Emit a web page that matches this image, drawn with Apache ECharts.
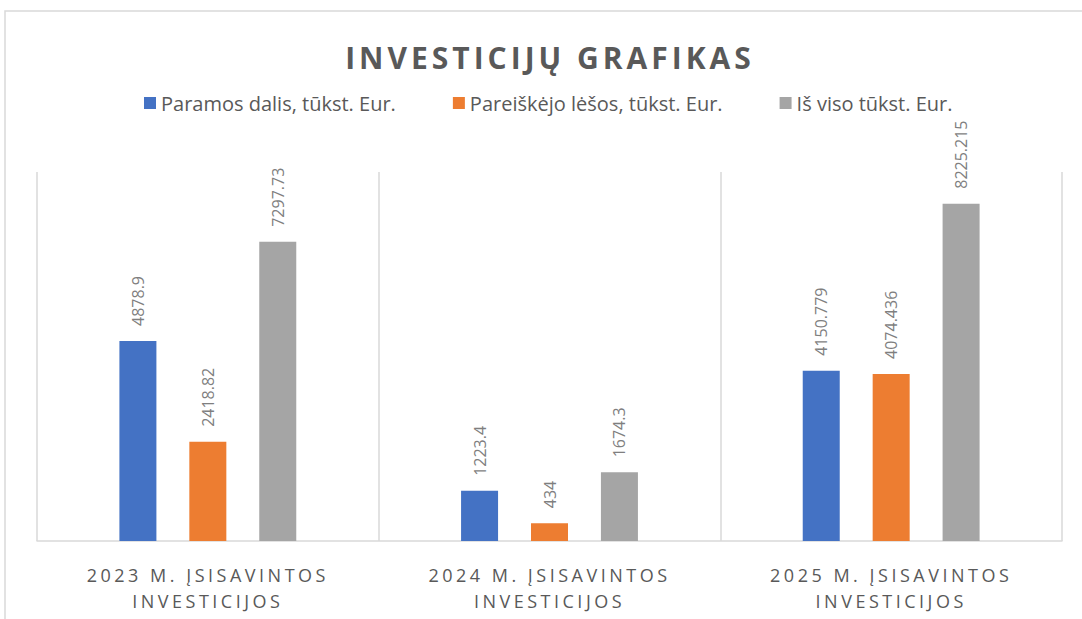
<!DOCTYPE html>
<html>
<head>
<meta charset="utf-8">
<script src="https://cdn.jsdelivr.net/npm/echarts@6/dist/echarts.min.js"></script>
<style>
html, body { margin: 0; padding: 0; background: #fff; }
#chart { width: 1082px; height: 619px; }
</style>
</head>
<body>
<div id="chart"></div>
<script>
// kategorijos ir duomenys
const categories = [
    "2023 M. ĮSISAVINTOS\nINVESTICIJOS",
    "2024 M. ĮSISAVINTOS\nINVESTICIJOS",
    "2025 M. ĮSISAVINTOS\nINVESTICIJOS"
];
const seriesNames = ["Paramos dalis, tūkst. Eur.", "Pareiškėjo lėšos, tūkst. Eur.", "Iš viso tūkst. Eur."];
const paramosDalis = [4878.9, 1223.4, 4150.779];
const pareiskejoLesos = [2418.82, 434, 4074.436];
const isViso = [7297.73, 1674.3, 8225.215];
const colors = ["#4472C4", "#ED7D31", "#A5A5A5"];
const titleText = "INVESTICIJŲ GRAFIKAS";

const font = "'Open Sans', 'Noto Sans', sans-serif";

function barSeries(name, data, color) {
    return {
        name: name,
        type: "bar",
        data: data,
        barWidth: 37,
        barGap: "89%",
        itemStyle: { color: color },
        label: {
            show: true,
            position: "top",
            rotate: 90,
            align: "left",
            verticalAlign: "middle",
            distance: 15,
            color: "#7f7f7f",
            fontSize: 16,
            fontFamily: font
        }
    };
}

const chart = echarts.init(document.getElementById("chart"), null, { renderer: "svg" });
const option = {
    animation: false,
    color: colors,
    title: {
        text: titleText,
        left: 545,
        textAlign: "center",
        top: 37,
        textStyle: {
            color: "#595959",
            fontSize: 30,
            fontWeight: "bold",
            fontFamily: font
        }
    },
    legend: {
        top: 88,
        left: 139,
        itemWidth: 12,
        itemHeight: 12,
        itemGap: 57,
        icon: "rect",
        textStyle: { color: "#595959", fontSize: 20, fontFamily: font },
        data: seriesNames
    },
    graphic: [{
        type: "rect",
        shape: { x: 5, y: 11, width: 1200, height: 800 },
        style: { fill: "none", stroke: "#d9d9d9", lineWidth: 1.5 },
        silent: true
    }],
    grid: {
        left: 37,
        right: 20,
        top: 172,
        bottom: 78,
        containLabel: false
    },
    xAxis: {
        type: "category",
        data: categories,
        axisLine: { lineStyle: { color: "#d9d9d9", width: 1.5 } },
        axisTick: { show: false },
        splitLine: { show: true, lineStyle: { color: "#d9d9d9", width: 1.5 } },
        axisLabel: {
            color: "#595959",
            fontSize: 18,
            lineHeight: 26,
            margin: 21,
            fontFamily: font
        }
    },
    yAxis: {
        type: "value",
        min: 0,
        max: 9000,
        show: false,
        splitLine: { show: false }
    },
    series: [
        barSeries(seriesNames[0], paramosDalis, colors[0]),
        barSeries(seriesNames[1], pareiskejoLesos, colors[1]),
        barSeries(seriesNames[2], isViso, colors[2])
    ]
};
chart.setOption(option);

// retesnis raidžių tarpas pavadinimui ir ašies užrašams (kaip Excel)
const catLines = categories.join("\n").split("\n");
document.querySelectorAll("#chart svg text").forEach((el) => {
    const t = el.textContent;
    if (t === titleText) {
        el.style.letterSpacing = "4px";
    } else if (catLines.includes(t)) {
        el.style.letterSpacing = "3.5px";
    }
});
</script>
</body>
</html>
